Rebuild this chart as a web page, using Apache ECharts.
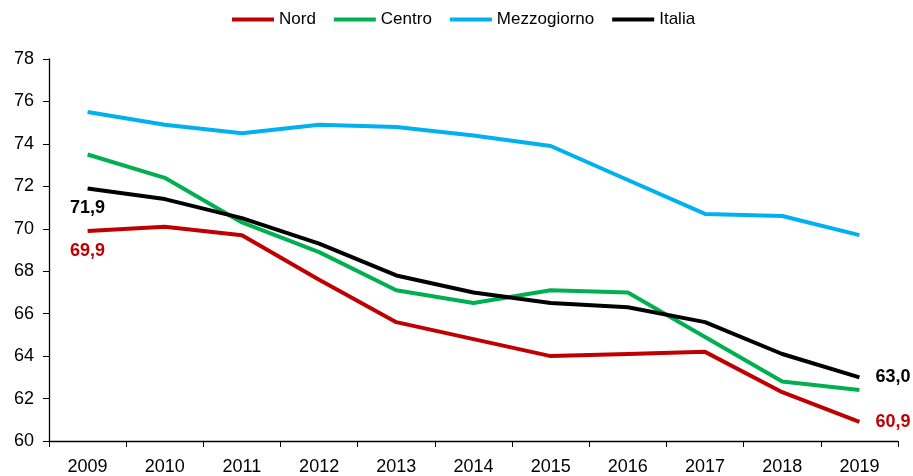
<!DOCTYPE html>
<html>
<head>
<meta charset="utf-8">
<script src="https://cdn.jsdelivr.net/npm/echarts@6/dist/echarts.min.js"></script>
<style>
	html,body{margin:0;padding:0;background:#fff;}
	#chart{width:913px;height:476px;}
</style>
</head>
<body>
<div id="chart"></div>
<script>
	// anni sull'asse x
	var anni = ["2009","2010","2011","2012","2013","2014","2015","2016","2017","2018","2019"];
	// valori per ripartizione
	var nord = [69.9, 70.1, 69.7, 67.6, 65.6, 64.8, 64.0, 64.1, 64.2, 62.3, 60.9];
	var centro = [73.5, 72.4, 70.3, 68.9, 67.1, 66.5, 67.1, 67.0, 64.9, 62.8, 62.4];
	var mezzogiorno = [75.5, 74.9, 74.5, 74.9, 74.8, 74.4, 73.9, 72.3, 70.7, 70.6, 69.7];
	var italia = [71.9, 71.4, 70.5, 69.3, 67.8, 67.0, 66.5, 66.3, 65.6, 64.1, 63.0];
	var nomi = ["Nord","Centro","Mezzogiorno","Italia"];
	var colori = ["#c00000","#00b050","#00b0f0","#000000"];

	var myChart = echarts.init(document.getElementById("chart"));

	// etichette solo sul primo e ultimo punto
	function etichette(arr, col){
		return arr.map(function(v, i){
			if(i === 0 || i === arr.length - 1){
				return {
					value: v,
					label: {
						show: true,
						position: i === 0 ? "bottom" : "right",
						distance: i === 0 ? 11 : 16,
						color: col,
						fontWeight: "bold",
						fontSize: 18,
						fontFamily: "Liberation Sans",
						formatter: function(p){ return p.value.toFixed(1).replace(".", ","); }
					}
				};
			}
			return v;
		});
	}

	function serie(nome, dati, col){
		return {
			name: nome,
			type: "line",
			data: dati,
			symbol: "circle",
			symbolSize: 0,
			showSymbol: true,
			smooth: false,
			lineStyle: { width: 4, color: col },
			itemStyle: { color: col },
			label: { show: false },
			z: 2
		};
	}

	var option = {
		animation: false,
		legend: {
			top: 6,
			left: 227,
			itemWidth: 42,
			itemHeight: 4,
			itemGap: 18,
			icon: "rect",
			textStyle: { fontSize: 17, color: "#000", fontFamily: "Liberation Sans" },
			data: nomi
		},
		grid: { left: 49, right: 15, top: 59, bottom: 35 },
		xAxis: {
			type: "category",
			data: anni,
			boundaryGap: true,
			axisLine: { lineStyle: { color: "#000", width: 1.3 } },
			axisTick: { show: true, length: 6, lineStyle: { color: "#000" } },
			axisLabel: { color: "#000", fontSize: 18, fontFamily: "Liberation Sans", margin: 17 }
		},
		yAxis: {
			type: "value",
			min: 60,
			max: 78,
			interval: 2,
			splitLine: { show: false },
			axisLine: { show: true, lineStyle: { color: "#000", width: 1.3 } },
			axisTick: { show: true, length: 6, lineStyle: { color: "#000" } },
			axisLabel: { color: "#000", fontSize: 18, fontFamily: "Liberation Sans", margin: 15 }
		},
		series: [
			serie("Nord", etichette(nord, colori[0]), colori[0]),
			serie("Centro", centro, colori[1]),
			serie("Mezzogiorno", mezzogiorno, colori[2]),
			serie("Italia", etichette(italia, colori[3]), colori[3])
		]
	};
	myChart.setOption(option);
</script>
</body>
</html>
